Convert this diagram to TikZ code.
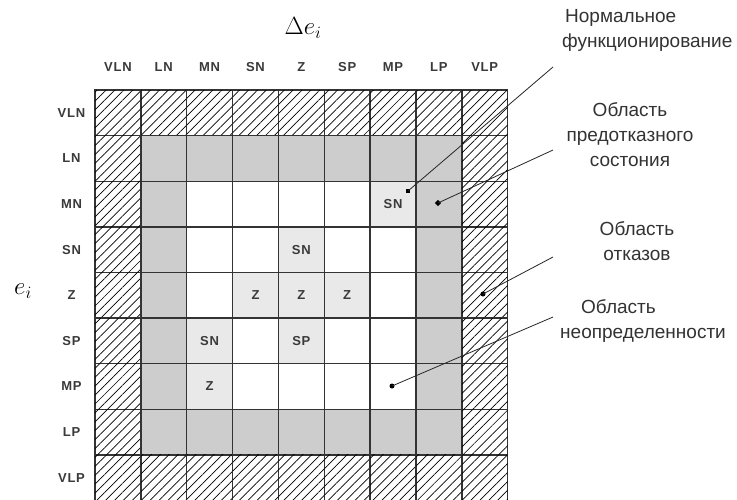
\documentclass[tikz,border=0pt]{standalone}
\usepackage{fontspec}
\setmainfont{Liberation Sans}
\newfontfamily\lblfont[LetterSpace=6]{Liberation Sans}
\usetikzlibrary{patterns.meta,shapes.geometric}
\definecolor{ringgray}{HTML}{CDCDCD}
\definecolor{lightgray}{HTML}{E9E9E9}
\definecolor{lblcol}{HTML}{3A3A3A}
\newcommand{\annsize}{\fontsize{19}{25}\selectfont}
\newcommand{\lblsize}{\lblfont\bfseries\fontsize{13}{15}\selectfont}
\pgfkeys{/lc/.is family,
  /lc/2-6/.initial=SN, /lc/3-4/.initial=SN,
  /lc/4-3/.initial=Z, /lc/4-4/.initial=Z, /lc/4-5/.initial=Z,
  /lc/5-2/.initial=SN, /lc/5-4/.initial=SP, /lc/6-2/.initial=Z}
\tikzset{
  cell/.style={rectangle, draw=black!80, line width=1.4pt, minimum width=45.85pt,
    minimum height=45.6pt, inner sep=0pt, font=\lblsize, text=lblcol},
  whitecell/.style={fill=white},
  graycell/.style={fill=ringgray},
  litecell/.style={fill=lightgray},
  hatchcell/.style={fill=white, postaction={pattern={Lines[angle=45,distance=6.3pt,line width=0.7pt]}}},
  ringstyle/.code={\ifcase#1\relax\tikzset{whitecell}\or\tikzset{whitecell}\or\tikzset{whitecell}\or\tikzset{graycell}\or\tikzset{hatchcell}\fi},
  axislabel/.style={font=\lblsize, text=lblcol, inner sep=1pt},
  annot/.style={font=\annsize, text=black!80, inner sep=0pt},
  leader/.style={line width=0.8pt, black!85},
  sqmark/.style={rectangle, fill=black, minimum size=4.5pt, inner sep=0pt},
  diamark/.style={diamond, fill=black, minimum size=6.5pt, inner sep=0pt},
  dotmark/.style={circle, fill=black, minimum size=5pt, inner sep=0pt}
}
\begin{document}
\begin{tikzpicture}[x=1pt,y=-1pt]
\useasboundingbox (0,0) rectangle (737,499);
\fill[white] (0,0) rectangle (737,499);
\begin{scope}
\clip (0,0) rectangle (737,499);
\foreach \r in {0,...,8}{
  \foreach \c in {0,...,8}{
    \pgfmathtruncatemacro\ring{max(abs(\r-4),abs(\c-4))}
    \pgfkeysifdefined{/lc/\r-\c}{%
      \node[cell, litecell] (c\r\c) at ({95+45.85*(\c+0.5)},{90+45.6*(\r+0.5)}) {\pgfkeysvalueof{/lc/\r-\c}};
    }{%
      \node[cell, ringstyle=\ring] (c\r\c) at ({95+45.85*(\c+0.5)},{90+45.6*(\r+0.5)}) {};
    }
  }
}
\end{scope}
% axis labels
\foreach \t [count=\i from 0] in {VLN,LN,MN,SN,Z,SP,MP,LP,VLP}{
  \node[axislabel] (h\i) at ({95+45.85*(\i+0.5)},67) {\t};
  \node[axislabel] (v\i) at (71.5,{90+45.6*(\i+0.5)}) {\t};
}
\node[inner sep=0pt, font=\fontsize{24}{26}\selectfont] (de) at (303,28) {$\Delta e_i$};
\node[inner sep=0pt, font=\fontsize{26}{28}\selectfont] (ei) at (23,291) {$e_i$};
% annotations
\node[annot, anchor=west, align=left] (t1) at (562,30.5) {\hspace*{3pt}Нормальное\\функционирование};
\node[annot, align=center] (t2) at (630,135) {Область\\предотказного\\состония};
\node[annot, align=center] (t3) at (637,241.5) {Область\\отказов};
\node[annot, anchor=west, align=left] (t4) at (560,320.5) {\hspace*{21pt}Область\\неопределенности};
\node[sqmark] (m1) at (408,191) {};
\node[diamark] (m2) at (438,203) {};
\node[dotmark] (m3) at (483,294) {};
\node[dotmark] (m4) at (392,386) {};
\coordinate (e1) at (553,67);
\coordinate (e2) at (553,150);
\coordinate (e3) at (553,257);
\coordinate (e4) at (553,317);
\draw[leader] (m1.center) -- (e1);
\draw[leader] (m2.center) -- (e2);
\draw[leader] (m3.center) -- (e3);
\draw[leader] (m4.center) -- (e4);
\end{tikzpicture}
\end{document}
